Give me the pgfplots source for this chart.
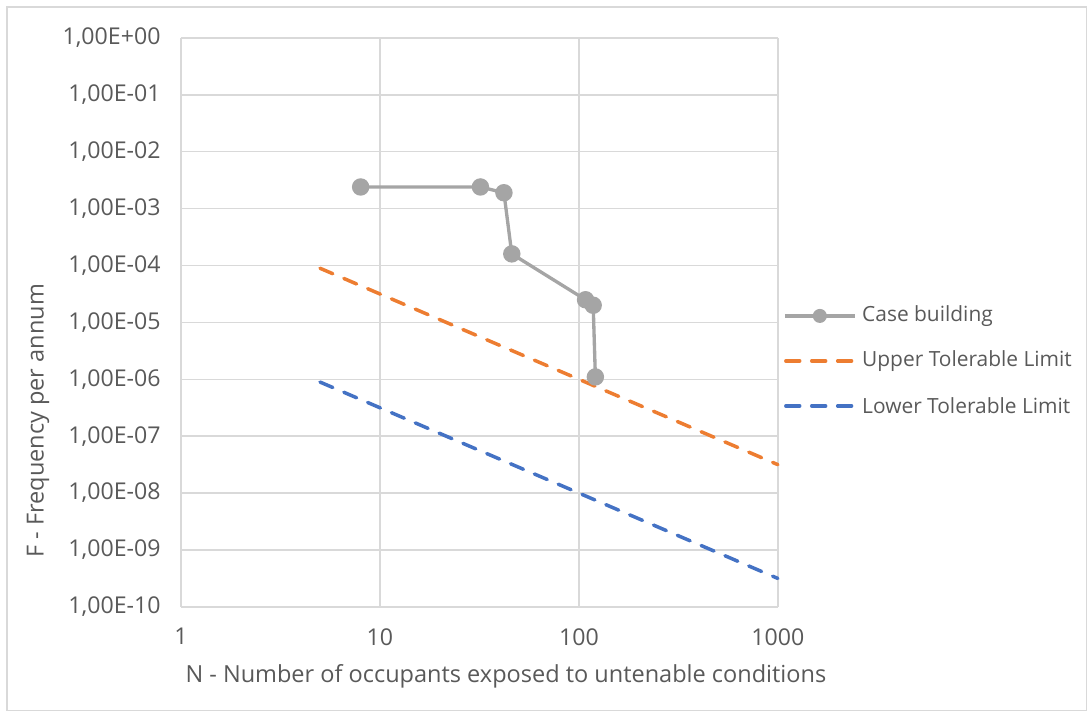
\documentclass[border=0pt]{standalone}
\usepackage{fontspec}
\setmainfont{Open Sans}
\usepackage{pgfplots}
\pgfplotsset{compat=1.18}
\definecolor{gridc}{HTML}{D9D9D9}
\definecolor{txt}{HTML}{595959}
\definecolor{caseg}{HTML}{A5A5A5}
\definecolor{upc}{HTML}{ED7D31}
\definecolor{loc}{HTML}{4472C4}
\begin{document}
\begin{tikzpicture}[x=0.54pt,y=0.54pt]
\begin{axis}[
  at={(0,0)}, anchor=south west,
  scale only axis, width=322.4pt, height=307.3pt,
  xmode=log, ymode=log,
  xmin=1, xmax=1000, ymin=1e-10, ymax=1,
  log basis x=10, log basis y=10,
  xtick={1,10,100,1000}, xticklabels={1,10,100,1000},
  ytick={1e-10,1e-9,1e-8,1e-7,1e-6,1e-5,1e-4,1e-3,1e-2,1e-1,1},
  yticklabels={{1,00E-10},{1,00E-09},{1,00E-08},{1,00E-07},{1,00E-06},{1,00E-05},{1,00E-04},{1,00E-03},{1,00E-02},{1,00E-01},{1,00E+00}},
  minor tick num=0,
  xminorticks=false, yminorticks=false,
  major tick length=0pt,
  grid=major,
  major grid style={gridc, line width=0.8pt},
  axis line style={gridc, line width=0.8pt},
  axis x line*=bottom, axis y line*=left,
  tick label style={font=\fontsize{12.5}{15}\selectfont, text=txt},
  xticklabel style={yshift=-8pt},
  yticklabel style={xshift=-7.5pt},
  /pgf/number format/assume math mode=true,
  clip=false,
]
\addplot[caseg, line width=1.8pt, mark=*, mark size=3.8pt, mark options={fill=caseg, draw=caseg}] coordinates {
 (8,2.4e-3) (32,2.4e-3) (42,1.9e-3) (46,1.6e-4) (108,2.5e-5) (118,2.0e-5) (121,1.1e-6)
};
\addplot[upc, line width=1.9pt, line cap=round, dash pattern=on 7.5pt off 6.5pt] coordinates {
 (5,8.94e-5) (10,3.16e-5) (100,1.0e-6) (1000,3.16e-8)
};
\addplot[loc, line width=1.9pt, line cap=round, dash pattern=on 7.5pt off 6.5pt] coordinates {
 (5,8.94e-7) (10,3.16e-7) (100,1.0e-8) (1000,3.16e-10)
};
\end{axis}
% legend
\begin{scope}[font=\fontsize{11.3}{13}\selectfont, text=txt]
\draw[caseg, line width=1.8pt] (604,291) -- (674,291);
\fill[caseg] (639,291) circle (3.8pt);
\node[anchor=west, inner sep=0pt] at (681,291) {Case building};
\draw[upc, line width=1.9pt, line cap=round, dash pattern=on 7.5pt off 6.5pt] (605,246) -- (674,246);
\node[anchor=west, inner sep=0pt] at (681,246) {Upper Tolerable Limit};
\draw[loc, line width=1.9pt, line cap=round, dash pattern=on 7.5pt off 6.5pt] (605,201) -- (674,201);
\node[anchor=west, inner sep=0pt] at (681,201) {Lower Tolerable Limit};
\end{scope}
\begin{scope}[font=\fontsize{12.7}{15}\selectfont, text=txt]
\node[inner sep=0pt] at (325,-69) {N - Number of occupants exposed to untenable conditions};
\node[inner sep=0pt, rotate=90] at (-143,186) {F - Frequency per annum};
\end{scope}
\draw[gridc, line width=0.8pt] (-174,-103.5) rectangle (905.5,600);
\path[use as bounding box] (-181,-104) rectangle (906,607);
\end{tikzpicture}
\end{document}
